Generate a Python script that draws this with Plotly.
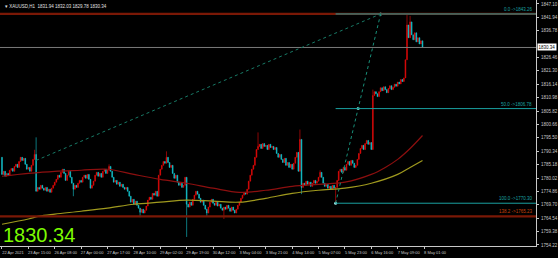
import plotly.graph_objects as go

# ---------------- data ----------------
time_labels = ["22 Apr 2021", "23 Apr 15:00", "26 Apr 08:00", "27 Apr 00:00", "27 Apr 17:00",
               "28 Apr 10:00", "29 Apr 02:00", "29 Apr 19:00", "30 Apr 12:00", "3 May 04:00",
               "3 May 21:00", "4 May 14:00", "5 May 07:00", "5 May 23:00", "6 May 16:00",
               "7 May 09:00", "8 May 01:00"]
time_label_bars = [0, 17, 34, 51, 68, 85, 102, 119, 136, 153, 170, 187, 204, 221, 238, 255, 272]

price_ticks = [1847.10, 1841.94, 1836.78, 1826.46, 1821.30, 1816.14, 1810.98, 1805.82,
               1800.66, 1795.50, 1790.34, 1785.18, 1780.02, 1774.86, 1769.70, 1764.54, 1759.38, 1754.22]

first_open = 1788.0
closes = [
    1781.4, 1782.6, 1780.7, 1781.8, 1781.1, 1783.0, 1783.7, 1782.6, 1784.5, 1785.3,
    1784.1, 1786.4, 1788.0, 1786.8, 1787.6, 1785.3, 1783.4, 1784.1, 1782.6, 1784.9,
    1787.2, 1789.1, 1774.9, 1776.4, 1775.7, 1777.2, 1776.1, 1775.3, 1776.4, 1774.9,
    1775.7, 1774.5, 1776.1, 1777.2, 1778.4, 1779.5, 1781.1, 1780.3, 1782.2, 1783.4,
    1781.8, 1779.1, 1781.1, 1782.6, 1780.3, 1778.0, 1775.7, 1777.2, 1776.4, 1778.0,
    1779.1, 1778.4, 1780.3, 1781.1, 1779.9, 1781.4, 1779.5, 1776.1, 1777.2, 1778.8,
    1781.1, 1782.2, 1780.7, 1781.8, 1780.3, 1782.6, 1783.4, 1781.8, 1783.0, 1784.5,
    1782.6, 1780.3, 1778.4, 1779.1, 1777.6, 1778.4, 1776.8, 1777.6, 1776.4, 1775.7,
    1776.4, 1774.9, 1773.0, 1770.7, 1771.8, 1769.9, 1771.1, 1769.5, 1768.4, 1766.8,
    1768.0, 1766.5, 1767.6, 1769.2, 1771.5, 1772.6, 1771.8, 1774.1, 1773.4, 1774.9,
    1773.0, 1781.1, 1783.4, 1784.9, 1786.4, 1785.7, 1788.0, 1786.0, 1784.1, 1784.9,
    1781.8, 1779.9, 1781.1, 1778.4, 1777.2, 1778.0, 1776.4, 1777.2, 1780.3, 1769.9,
    1768.8, 1770.7, 1769.5, 1771.8, 1773.4, 1774.9, 1773.8, 1772.2, 1770.7, 1771.5,
    1769.5, 1768.0, 1766.5, 1768.8, 1770.7, 1771.8, 1770.3, 1769.5, 1770.7, 1769.2,
    1769.9, 1768.4, 1767.6, 1768.8, 1768.0, 1769.5, 1768.4, 1767.2, 1768.8, 1767.6,
    1766.5, 1768.0, 1769.5, 1770.7, 1772.2, 1773.4, 1774.5, 1773.8, 1775.7, 1778.8,
    1781.1, 1783.4, 1784.9, 1788.0, 1791.0, 1792.2, 1793.0, 1791.4, 1793.3, 1792.2,
    1792.6, 1791.0, 1793.0, 1791.8, 1792.2, 1791.0, 1791.8, 1789.5, 1788.0, 1789.1,
    1787.2, 1786.0, 1787.6, 1784.9, 1786.0, 1784.1, 1785.3, 1783.4, 1785.7, 1788.0,
    1789.9, 1782.6, 1794.9, 1776.4, 1778.0, 1777.2, 1778.8, 1777.6, 1778.4, 1776.8,
    1778.0, 1779.1, 1778.0, 1778.8, 1780.3, 1782.2, 1780.3, 1778.0, 1776.8, 1777.6,
    1776.1, 1776.8, 1775.7, 1777.2, 1776.1, 1776.4, 1779.1, 1782.6, 1783.4, 1782.2,
    1784.1, 1783.0, 1785.3, 1786.4, 1784.9, 1786.8, 1785.7, 1784.1, 1784.9, 1787.2,
    1789.5, 1791.4, 1792.6, 1791.0, 1793.3, 1794.5, 1793.0, 1793.7, 1791.0, 1811.8,
    1813.3, 1812.5, 1811.4, 1813.3, 1814.8, 1813.7, 1815.2, 1814.1, 1812.9, 1814.5,
    1815.6, 1814.1, 1815.0, 1816.2, 1815.4, 1817.0, 1816.3, 1818.0, 1817.2, 1818.6,
    1825.6, 1839.0, 1834.1, 1840.2, 1835.2, 1833.3, 1836.0, 1832.5, 1834.1, 1831.7,
    1832.9, 1830.34,
]
wick_high_bars = [21, 22, 69, 106, 165, 192, 205, 239, 261, 263]
wick_high_vals = [1790.9, 1795.7, 1785.3, 1790.3, 1797.6, 1798.7, 1783.0, 1814.1, 1843.3, 1842.5]
wick_low_bars = [46, 89, 119, 132, 143, 193, 215]
wick_low_vals = [1773.0, 1764.9, 1757.3, 1765.3, 1764.2, 1773.8, 1770.3]

ma_bars = [0, 17, 34, 51, 68, 85, 102, 119, 136, 153, 170, 187, 204, 221, 238, 247, 255, 263, 271]
ma_red = [1780.7, 1781.8, 1782.6, 1783.0, 1783.4, 1781.4, 1779.5, 1778.0, 1776.1, 1774.5,
          1775.3, 1776.8, 1777.6, 1778.4, 1781.4, 1784.1, 1787.2, 1791.4, 1796.4]
ma_yellow_bars = [0, 17, 24, 34, 51, 68, 85, 102, 119, 136, 153, 170, 187, 204, 221, 238, 255, 263, 271]
ma_yellow = [1762.2, 1764.2, 1765.3, 1766.1, 1767.2, 1768.4, 1769.9, 1770.7, 1771.5, 1771.1,
             1770.7, 1772.2, 1774.1, 1775.3, 1776.1, 1778.0, 1781.4, 1784.1, 1786.8]

current_price = 1830.34
header_text = "\u25be XAUUSD,H1  1831.94 1832.03 1829.78 1830.34"

# teal fibonacci (drawn from low to high)
fib_low_bar, fib_low = 215, 1770.30
fib_high_bar, fib_high = 244, 1843.26
fib_levels = [0.0, 50.0, 100.0]
# second (red) fibonacci
red_fib_start_bar, red_fib_start = 22, 1786.80
red_fib_levels = [0.0, 138.2]

# ---------------- build ----------------
n = len(closes)
bars = list(range(n))
opens = [first_open] + closes[:-1]
highs = [max(o, c) for o, c in zip(opens, closes)]
lows = [min(o, c) for o, c in zip(opens, closes)]
for b, v in zip(wick_high_bars, wick_high_vals):
    highs[b] = max(highs[b], v)
for b, v in zip(wick_low_bars, wick_low_vals):
    lows[b] = min(lows[b], v)

BULL = "#e80a0a"
BEAR = "#14c8d2"
TEAL = "#1aa0a0"
AXC = "#c8c8c8"

fig = go.Figure()

fig.add_trace(go.Candlestick(
    x=bars, open=opens, high=highs, low=lows, close=closes,
    increasing=dict(line=dict(color=BULL, width=0.6), fillcolor=BULL),
    decreasing=dict(line=dict(color=BEAR, width=0.6), fillcolor=BEAR),
    whiskerwidth=0, hoverinfo="skip",
))

fig.add_trace(go.Scatter(x=ma_bars, y=ma_red, mode="lines",
                         line=dict(color="#8c0f0f", width=1.2, shape="spline"), hoverinfo="skip"))
fig.add_trace(go.Scatter(x=ma_yellow_bars, y=ma_yellow, mode="lines",
                         line=dict(color="#a09a1e", width=1.2, shape="spline"), hoverinfo="skip"))

x_max = 344.2
shapes = []
red_prices = [fib_high - (lv / 100.0) * (fib_high - red_fib_start) for lv in red_fib_levels]
for p in red_prices:
    shapes.append(dict(type="line", xref="x", yref="y", x0=-2, x1=x_max, y0=p, y1=p,
                       line=dict(color="#7a1806", width=2.2)))
shapes.append(dict(type="line", xref="x", yref="y", x0=-2, x1=x_max, y0=current_price, y1=current_price,
                   line=dict(color="#7a7a7a", width=1)))
fib_prices = [fib_high - (lv / 100.0) * (fib_high - fib_low) for lv in fib_levels]
for p in fib_prices:
    shapes.append(dict(type="line", xref="x", yref="y", x0=fib_low_bar, x1=x_max, y0=p, y1=p,
                       line=dict(color=TEAL, width=1)))
shapes.append(dict(type="line", xref="x", yref="y", x0=fib_low_bar, x1=fib_high_bar, y0=fib_low, y1=fib_high,
                   line=dict(color="#18907a", width=1, dash="dot")))
shapes.append(dict(type="line", xref="x", yref="y", x0=red_fib_start_bar, x1=fib_high_bar, y0=red_fib_start,
                   y1=fib_high, line=dict(color="#187a66", width=1, dash="dot")))
fig.update_layout(shapes=shapes)

mid_price = fib_prices[1]
fig.add_trace(go.Scatter(x=[fib_low_bar, (fib_low_bar + fib_high_bar) / 2, fib_high_bar],
                         y=[fib_low, mid_price, fib_high], mode="markers",
                         marker=dict(color="#a0f0f0", size=3), hoverinfo="skip"))

ann = []
x_edge = 539 / 558
for lv, p in zip(fib_levels, fib_prices):
    ann.append(dict(xref="paper", yref="y", x=x_edge - 0.004, y=p, xanchor="right", yanchor="bottom",
                    text=f"{lv:.1f} ->{p:.2f}", showarrow=False,
                    font=dict(size=4.5, color=TEAL, family="Liberation Sans")))
ann.append(dict(xref="paper", yref="y", x=x_edge - 0.004, y=red_prices[1], xanchor="right", yanchor="bottom",
                text=f"{red_fib_levels[1]:.1f} ->{red_prices[1]:.2f}", showarrow=False,
                font=dict(size=4.5, color="#c8400a", family="Liberation Sans")))
ann.append(dict(xref="paper", yref="y", x=x_edge + 0.002, y=current_price, xanchor="left", yanchor="middle",
                text=f"{current_price:.2f}", showarrow=False, bgcolor="#ffffff", borderpad=0.5,
                font=dict(size=4.5, color="#000000", family="Liberation Sans")))
ann.append(dict(xref="paper", yref="paper", x=0.005, y=1, yshift=-2, xanchor="left", yanchor="top",
                text=header_text, showarrow=False,
                font=dict(size=4.5, color="#e0e0e0", family="Liberation Sans")))
ann.append(dict(xref="paper", yref="paper", x=0.002, y=1 - 223 / 258, xanchor="left", yanchor="top",
                text=f"{current_price:.2f}", showarrow=False,
                font=dict(size=20, color="#7cfc00", family="Liberation Sans")))
fig.update_layout(annotations=ann)

fig.update_layout(
    width=558, height=258, margin=dict(l=0, r=0, t=0, b=0),
    paper_bgcolor="#000000", plot_bgcolor="#000000", showlegend=False,
    xaxis=dict(domain=[0, x_edge], range=[-1.28, x_max], tickvals=time_label_bars, ticktext=time_labels,
               tickangle=0,
               tickfont=dict(size=4, color=AXC, family="Liberation Sans"), ticks="outside", ticklen=2,
               tickcolor=AXC, showgrid=False, zeroline=False, showline=True, linecolor=AXC, linewidth=1,
               rangeslider=dict(visible=False), ticklabelshift=11, ticklabelstandoff=0),
    yaxis=dict(domain=[11 / 258, 1], range=[1753.79, 1848.64], side="right", tickvals=price_ticks,
               ticktext=[f"{v:.2f}" for v in price_ticks],
               tickfont=dict(size=4.5, color=AXC, family="Liberation Sans"), ticks="outside", ticklen=2,
               tickcolor=AXC, showgrid=False, zeroline=False, showline=True, linecolor=AXC, linewidth=1,
               ticklabelstandoff=1),
)

fig.write_html("out.html")
